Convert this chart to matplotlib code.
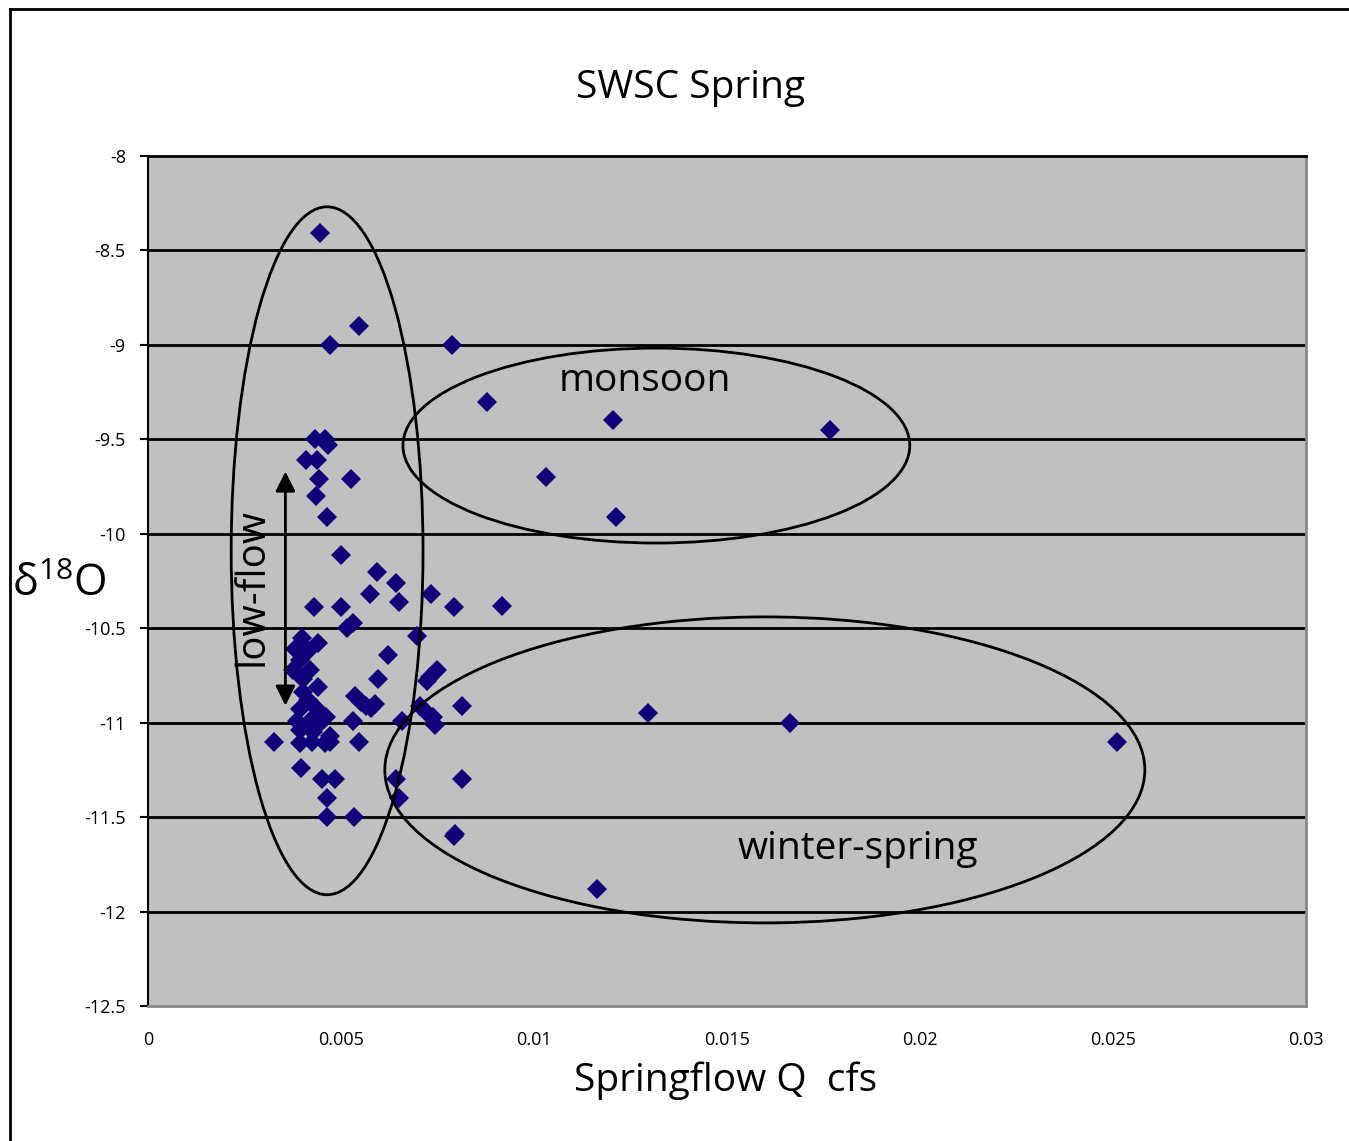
import matplotlib.pyplot as plt
from matplotlib.patches import Ellipse

plt.rcParams['font.family'] = ['Open Sans', 'DejaVu Sans']

# springflow Q (cfs) and delta 18O
flow = [0.00446, 0.00547, 0.00472, 0.00788, 0.00878, 0.01205, 0.01767, 0.01031,
        0.01212, 0.01295, 0.01663, 0.02510, 0.01163, 0.00793, 0.00813, 0.00813,
        0.00793, 0.00917, 0.00733,
        0.00433, 0.00459, 0.00466, 0.00409, 0.00437, 0.00444, 0.00526, 0.00435,
        0.00465,
        0.00499, 0.00594, 0.00642, 0.00575, 0.00651, 0.00430, 0.00499, 0.00532,
        0.00515, 0.00696, 0.00622, 0.00597, 0.00748, 0.00731, 0.00722,
        0.00536, 0.00553, 0.00566, 0.00579, 0.00588, 0.00532, 0.00547, 0.00472,
        0.00327, 0.00396, 0.00450, 0.00484, 0.00464, 0.00464, 0.00533, 0.00642,
        0.00651, 0.00795, 0.00657, 0.00705, 0.00722, 0.00739, 0.00743,
        0.00398, 0.00441, 0.00381, 0.00415, 0.00394, 0.00376, 0.00420, 0.00402,
        0.00441, 0.00402, 0.00415, 0.00394, 0.00436, 0.00462, 0.00385, 0.00420,
        0.00446, 0.00394, 0.00428, 0.00472, 0.00394, 0.00424, 0.00459]
d18o = [-8.41, -8.90, -9.00, -9.00, -9.30, -9.40, -9.45, -9.70,
        -9.91, -10.95, -11.00, -11.10, -11.88, -11.60, -11.30, -10.91,
        -10.39, -10.38, -10.32,
        -9.50, -9.50, -9.53, -9.61, -9.61, -9.71, -9.71, -9.80,
        -9.91,
        -10.11, -10.20, -10.26, -10.32, -10.36, -10.39, -10.39, -10.47,
        -10.50, -10.54, -10.64, -10.77, -10.72, -10.76, -10.78,
        -10.86, -10.89, -10.91, -10.92, -10.90, -10.99, -11.10, -11.10,
        -11.10, -11.24, -11.30, -11.30, -11.40, -11.50, -11.50, -11.30,
        -11.40, -11.59, -10.99, -10.91, -10.95, -10.97, -11.01,
        -10.55, -10.58, -10.61, -10.62, -10.67, -10.72, -10.72, -10.77,
        -10.81, -10.84, -10.88, -10.93, -10.92, -10.97, -10.99, -10.99,
        -11.00, -11.04, -11.05, -11.07, -11.11, -11.10, -11.11]

y_ticks = [-8, -8.5, -9, -9.5, -10, -10.5, -11, -11.5, -12, -12.5]
x_ticks = [0, 0.005, 0.01, 0.015, 0.02, 0.025, 0.03]
x_labels = ['0', '0.005', '0.01', '0.015', '0.02', '0.025', '0.03']

fig = plt.figure(figsize=(13.49, 11.41), dpi=100)
ax = fig.add_axes([148/1349, 1 - 1006/1141, (1306-148)/1349, (1006-156)/1141])
ax.set_facecolor('#c0c0c0')

for yv in y_ticks[1:-1]:
    ax.axhline(yv, color='black', lw=2, zorder=1)

ax.plot(flow, d18o, 'D', color='#10007a', markersize=10, markeredgewidth=0, zorder=3)

ax.set_xlim(0, 0.03)
ax.set_ylim(-12.5, -8)
ax.set_yticks(y_ticks)
ax.set_yticklabels([str(v) for v in y_ticks], fontsize=13)
ax.set_xticks(x_ticks)
ax.set_xticklabels(x_labels, fontsize=13)
ax.tick_params(axis='x', length=0, pad=18)
ax.tick_params(axis='y', length=6, width=1.5, pad=10)
ax.spines['top'].set_color('black')
ax.spines['left'].set_color('black')
ax.spines['top'].set_linewidth(2)
ax.spines['left'].set_linewidth(1.5)
ax.spines['right'].set_color('#888888')
ax.spines['bottom'].set_color('#888888')
ax.spines['right'].set_linewidth(2)
ax.spines['bottom'].set_linewidth(2)

# groups circled on the chart
ax.add_patch(Ellipse((0.00464, -10.09), 0.00497, 3.642, fill=False, lw=2, color='black', zorder=4))
ax.add_patch(Ellipse((0.01317, -9.533), 0.01313, 1.032, fill=False, lw=2, color='black', zorder=4))
ax.add_patch(Ellipse((0.01598, -11.25), 0.01969, 1.620, fill=False, lw=2, color='black', zorder=4))

ax.text(0.01288, -9.19, 'monsoon', fontsize=28, ha='center', va='center', zorder=5)
ax.text(0.01839, -11.67, 'winter-spring', fontsize=28, ha='center', va='center', zorder=5)
ax.text(0.00270, -10.28, 'low-flow', fontsize=29, rotation=90, ha='center', va='center', zorder=5)
ax.annotate('', xy=(0.00356, -9.67), xytext=(0.00356, -10.91),
            arrowprops=dict(arrowstyle='<|-|>', color='black', lw=2, mutation_scale=30,
                            shrinkA=0, shrinkB=0), zorder=5)

fig.text(690/1349, 1 - 88/1141, 'SWSC Spring', fontsize=28, ha='center', va='center')
fig.text(726/1349, 1 - 1081/1141, 'Springflow Q  cfs', fontsize=28, ha='center', va='center')
fig.text(12/1349, 1 - 585/1141, r'δ$^{\mathregular{18}}$O', fontsize=31, ha='left', va='center')

# outer frame
fig.add_artist(plt.Line2D([10/1349, 10/1349], [0, 1 - 9/1141], color='black', lw=2))
fig.add_artist(plt.Line2D([10/1349, 1], [1 - 9/1141, 1 - 9/1141], color='black', lw=2))

fig.savefig('out.png', dpi=100)
